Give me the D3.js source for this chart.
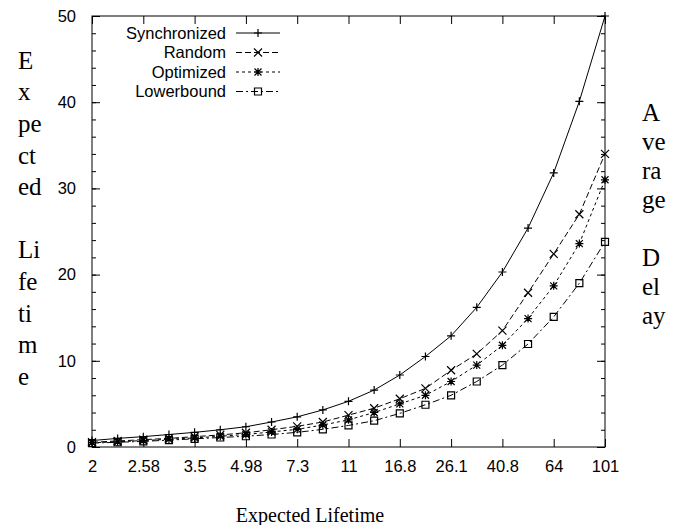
<!DOCTYPE html>
<html>
<head>
<meta charset="utf-8">
<script src="https://cdn.jsdelivr.net/npm/d3@7"></script>
<style>
  body { margin: 0; background: #fff; }
  svg { display: block; }
  .axis text { font-family: "Liberation Sans", Arial, sans-serif; font-size: 16.5px; fill: #000; }
  .axis line { stroke: #000; }
  .side { font-family: "Liberation Serif", "Times New Roman", serif; font-size: 25px; fill: #000; }
</style>
</head>
<body>
<div id="chart"></div>
<script>

// tick labels along the x axis (every second sample point)
const xLabels = ["2", "2.58", "3.5", "4.98", "7.3", "11", "16.8", "26.1", "40.8", "64", "101"];

// series values, 21 points each
const synchronized = [0.75, 1.0, 1.2, 1.45, 1.7, 2.0, 2.35, 2.9, 3.5, 4.3, 5.3, 6.6, 8.35, 10.5, 12.9, 16.2, 20.3, 25.4, 31.8, 40.1, 50];
const random = [0.55, 0.7, 0.85, 1.0, 1.2, 1.4, 1.65, 2.0, 2.4, 2.9, 3.7, 4.5, 5.6, 6.8, 8.9, 10.8, 13.5, 17.9, 22.4, 27.0, 34.0];
const optimized = [0.5, 0.6, 0.75, 0.9, 1.05, 1.25, 1.45, 1.75, 2.05, 2.55, 3.15, 4.0, 5.0, 6.0, 7.6, 9.5, 11.8, 14.9, 18.7, 23.6, 31.0];
const lowerbound = [0.45, 0.55, 0.65, 0.8, 0.95, 1.1, 1.25, 1.45, 1.7, 2.05, 2.5, 3.05, 3.9, 4.9, 6.0, 7.6, 9.5, 11.95, 15.1, 19.0, 23.8];

const seriesNames = ["Synchronized", "Random", "Optimized", "Lowerbound"];

const yTicks = [0, 10, 20, 30, 40, 50];

const leftWords = ["E", "x", "pe", "ct", "ed", "", "Li", "fe", "ti", "m", "e"];
const rightWords = ["A", "ve", "ra", "ge", "", "D", "el", "ay"];

const width = 673, height = 525;
const plot = { left: 92, right: 605, top: 16, bottom: 447 };

const svg = d3.select("#chart").append("svg")
    .attr("width", width)
    .attr("height", height);

const x = d3.scaleLinear()
    .domain([0, synchronized.length - 1])
    .range([plot.left, plot.right]);

const y = d3.scaleLinear()
    .domain([0, 50])
    .range([plot.bottom, plot.top]);

const xTickIdx = xLabels.map((d, i) => i * 2);

// axes, ticks pointing inwards
svg.append("g").attr("class", "axis")
    .attr("transform", `translate(0,${plot.bottom})`)
    .call(d3.axisBottom(x).tickValues(xTickIdx).tickFormat(i => xLabels[i / 2]).tickSize(-8).tickPadding(13));

svg.append("g").attr("class", "axis")
    .attr("transform", `translate(0,${plot.top})`)
    .call(d3.axisTop(x).tickValues(xTickIdx).tickFormat("").tickSize(-8));

svg.append("g").attr("class", "axis")
    .attr("transform", `translate(${plot.left},0)`)
    .call(d3.axisLeft(y).tickValues(yTicks).tickSize(-8).tickPadding(16));

svg.append("g").attr("class", "axis")
    .attr("transform", `translate(${plot.left},0)`)
    .call(d3.axisLeft(y).ticks(25).tickFormat("").tickSize(-4));

svg.append("g").attr("class", "axis")
    .attr("transform", `translate(${plot.right},0)`)
    .call(d3.axisRight(y).tickValues(yTicks).tickFormat("").tickSize(-8));

svg.append("g").attr("class", "axis")
    .attr("transform", `translate(${plot.right},0)`)
    .call(d3.axisRight(y).ticks(25).tickFormat("").tickSize(-4));

svg.selectAll(".axis .domain").remove();

svg.append("rect")
    .attr("x", plot.left).attr("y", plot.top)
    .attr("width", plot.right - plot.left).attr("height", plot.bottom - plot.top)
    .attr("fill", "none").attr("stroke", "#000");

// marker shapes
const markers = {
    plus: "M-4,0H4M0,-4V4",
    cross: "M-4,-4L4,4M-4,4L4,-4",
    star: "M-4,0H4M0,-4V4M-3.5,-3.5L3.5,3.5M-3.5,3.5L3.5,-3.5",
    square: "M-3.5,-3.5H3.5V3.5H-3.5Z"
};

const series = [
    { name: seriesNames[0], values: synchronized, dash: null, marker: markers.plus },
    { name: seriesNames[1], values: random, dash: "6,3", marker: markers.cross },
    { name: seriesNames[2], values: optimized, dash: "3,3", marker: markers.star },
    { name: seriesNames[3], values: lowerbound, dash: "7,3,2,3", marker: markers.square }
];

const line = d3.line()
    .x((d, i) => x(i))
    .y(d => y(d));

const g = svg.append("g");

series.forEach(s => {
    g.append("path")
        .datum(s.values)
        .attr("d", line)
        .attr("fill", "none")
        .attr("stroke", "#000")
        .attr("stroke-width", 1)
        .attr("stroke-dasharray", s.dash);

    g.selectAll(null)
        .data(s.values)
        .enter()
        .append("path")
        .attr("transform", (d, i) => `translate(${x(i)},${y(d)})`)
        .attr("d", s.marker)
        .attr("fill", "none")
        .attr("stroke", "#000")
        .attr("stroke-width", 1.2);
});

// legend
const legend = svg.append("g");
series.forEach((s, i) => {
    const ly = 33 + i * 19.5;
    legend.append("text")
        .attr("x", 226).attr("y", ly)
        .attr("dy", "0.35em")
        .attr("text-anchor", "end")
        .style("font-family", "Liberation Sans, Arial, sans-serif")
        .style("font-size", "16.5px")
        .text(s.name);
    legend.append("line")
        .attr("x1", 236).attr("x2", 280)
        .attr("y1", ly).attr("y2", ly)
        .attr("stroke", "#000")
        .attr("stroke-dasharray", s.dash);
    legend.append("path")
        .attr("transform", `translate(258,${ly})`)
        .attr("d", s.marker)
        .attr("fill", "none")
        .attr("stroke", "#000")
        .attr("stroke-width", 1.2);
});

// side labels broken into pieces, as in the original
svg.append("g").selectAll("text")
    .data(leftWords)
    .enter().append("text")
    .attr("class", "side")
    .attr("x", 18)
    .attr("y", (d, i) => 60 + i * 31.6)
    .attr("dy", "0.35em")
    .text(d => d);

svg.append("g").selectAll("text")
    .data(rightWords)
    .enter().append("text")
    .attr("class", "side")
    .attr("x", 642)
    .attr("y", (d, i) => 112 + i * 29)
    .attr("dy", "0.35em")
    .text(d => d);

svg.append("text")
    .attr("x", 310).attr("y", 515)
    .attr("dy", "0.35em")
    .attr("text-anchor", "middle")
    .style("font-family", "Liberation Serif, Times New Roman, serif")
    .style("font-size", "20px")
    .text("Expected Lifetime");

</script>
</body>
</html>
